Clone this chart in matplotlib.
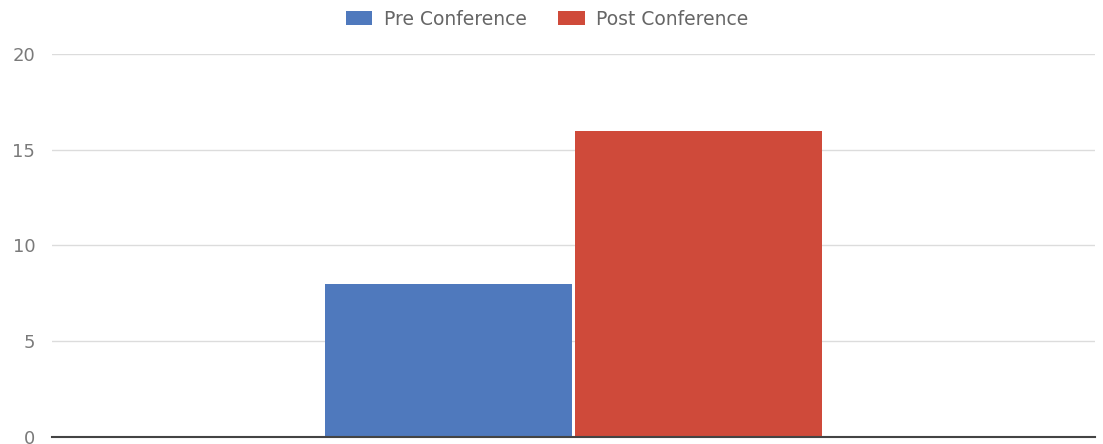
import matplotlib
matplotlib.use('Agg')
import matplotlib.pyplot as plt
from matplotlib.patches import Patch

# Datos del grafico
categorias = ['']
series = ['Pre Conference', 'Post Conference']
valores_pre = [8]
valores_post = [16]
colores = ['#4f79bd', '#cf4a3a']
yticks = [0, 5, 10, 15, 20]

plt.rcParams['font.family'] = ['DejaVu Sans']

fig = plt.figure(figsize=(11.03, 4.44), dpi=100)
ax = fig.add_axes([0.0471, 0.0158, 0.9456, 0.8626])

x = list(range(len(categorias)))
ancho = 0.237
ax.bar([i - 0.12 for i in x], valores_pre, width=ancho, color=colores[0], zorder=3)
ax.bar([i + 0.12 for i in x], valores_post, width=ancho, color=colores[1], zorder=3)

ax.set_xlim(-0.5, len(categorias) - 0.5)
ax.set_ylim(0, 20)
ax.set_yticks(yticks)
ax.set_xticks([])
ax.tick_params(axis='y', length=0, pad=12, labelsize=13, labelcolor='#7a7a7a')
ax.grid(axis='y', color='#dcdcdc', linewidth=1, zorder=0)

for s in ['top', 'right', 'left']:
    ax.spines[s].set_visible(False)
ax.spines['bottom'].set_color('#444444')
ax.spines['bottom'].set_linewidth(1.5)
ax.spines['bottom'].set_zorder(4)

handles = [Patch(facecolor=c, edgecolor='none') for c in colores]
fig.legend(handles, series, loc='center', bbox_to_anchor=(0.496, 0.957), ncol=2,
           frameon=False, fontsize=13.5, labelcolor='#666666',
           handlelength=1.4, handleheight=0.8, handletextpad=0.6, columnspacing=1.7)

fig.savefig('out.png', dpi=100)
